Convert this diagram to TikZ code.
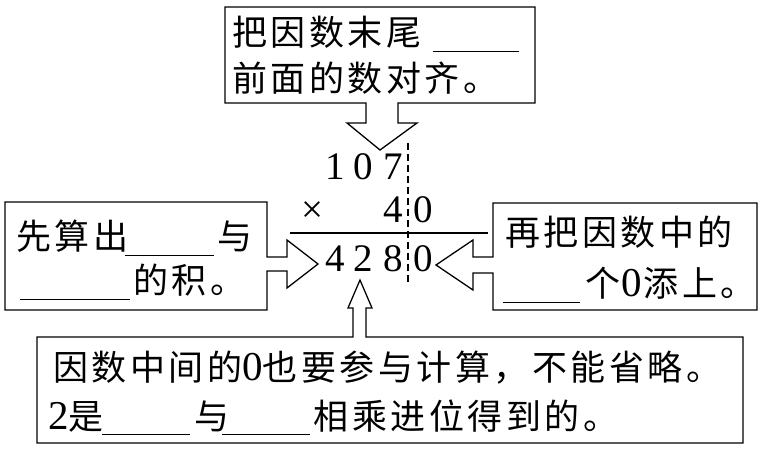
\documentclass[tikz,border=0pt]{standalone}
\usepackage{fontspec}
\newfontfamily\cjk[LetterSpace=10]{Noto Sans CJK SC}
\newfontfamily\dgf{Liberation Serif}
\newcommand\dg[1]{{\dgf\fontsize{41pt}{44pt}\selectfont #1}}
\newcommand\blank[1]{\rule[-6pt]{#1}{1pt}}
\begin{document}
\begin{tikzpicture}[x=1pt,y=-1pt,
  callout/.style={draw=black, line width=1.3pt, line join=miter},
  txt/.style={anchor=base west, inner sep=0pt, font=\cjk\fontsize{35pt}{40pt}\selectfont},
  num/.style={anchor=base, inner sep=0pt, font=\dgf\fontsize{39pt}{44pt}\selectfont},
  rulestyle/.style={line width=1.3pt},
  guide/.style={line width=1.2pt, dash pattern=on 7pt off 4pt}]
\useasboundingbox (0,0) rectangle (761,449);
\fill[white] (0,0) rectangle (761,449);

% callout outlines (box + arrow as one shape)
\draw[callout] (225,7) -- (535,7) -- (535,103) -- (398,103) -- (398,123) -- (417,123)
  -- (380,150) -- (347,123) -- (366,123) -- (366,103) -- (225,103) -- cycle;
\draw[callout] (5,202) -- (267,202) -- (267,257) -- (287,257) -- (287,240) -- (318,264)
  -- (287,288) -- (287,271) -- (267,271) -- (267,310) -- (5,310) -- cycle;
\draw[callout] (493,203) -- (757,203) -- (757,310) -- (493,310) -- (493,273) -- (473,273)
  -- (473,290) -- (436,265) -- (473,240) -- (473,257) -- (493,257) -- cycle;
\draw[callout] (37,337) -- (353,337) -- (353,308) -- (348,308) -- (360,280) -- (372,308)
  -- (366,308) -- (366,337) -- (743,337) -- (743,443) -- (37,443) -- cycle;

% texts
\node[txt] (top1) at (232,46) {把因数末尾\hspace{12pt}\blank{86pt}};
\node[txt] (top2) at (232,92) {前面的数对齐。};
\node[txt] (left1) at (16,250) {先算出\hspace{-3pt}\blank{89pt}\hspace{3pt}与};
\node[txt] (left2) at (20,294) {\blank{110pt}\hspace{3pt}的积。};
\node[txt] (right1) at (505,246) {再把因数中的};
\node[txt] (right2) at (503,297) {\blank{77pt}\hspace{5pt}个\hspace{1pt}\dg{0}\hspace{2pt}添上。};
\node[txt] (bot1) at (53,380) {因数中间的\dg{0}也要参与计算，不能省略。};
\node[txt] (bot2) at (48,429) {\dg{2}是\hspace{-2pt}\blank{88pt}\hspace{5pt}与\hspace{-8pt}\blank{88pt}\hspace{4pt}相乘进位得到的。};

% vertical multiplication
\node[num] (a1) at (335,180) {1};
\node[num] (a2) at (363,180) {0};
\node[num] (a3) at (393,180) {7};
\node[num] (times) at (312,223) {×};
\node[num] (b1) at (393,223) {4};
\node[num] (b2) at (423,223) {0};
\node[num] (c1) at (335,272) {4};
\node[num] (c2) at (363,272) {2};
\node[num] (c3) at (393,272) {8};
\node[num] (c4) at (423,272) {0};

\coordinate (ruleL) at (290,233);
\coordinate (ruleR) at (488,233);
\draw[rulestyle] (ruleL) -- (ruleR);
\coordinate (guideT) at (408,143);
\coordinate (guideB) at (408,284);
\draw[guide] (guideT) -- (guideB);
\end{tikzpicture}
\end{document}
